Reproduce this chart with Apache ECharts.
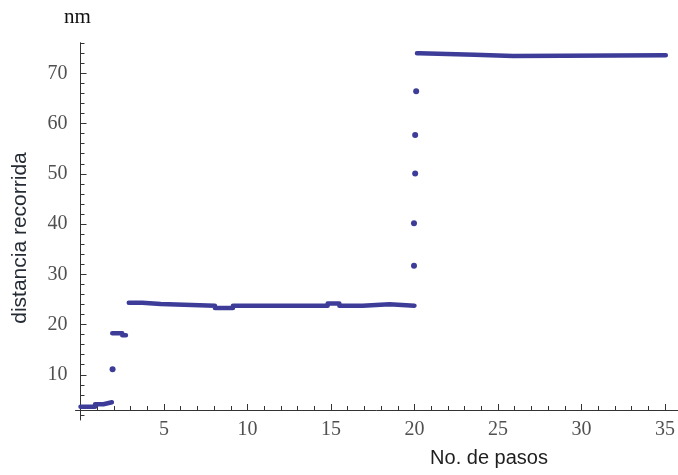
<!DOCTYPE html>
<html>
<head>
<meta charset="utf-8">
<script src="https://cdn.jsdelivr.net/npm/echarts@6/dist/echarts.min.js"></script>
<style>
  html, body { margin: 0; padding: 0; background: #fff; }
  #chart { width: 678px; height: 475px; }
</style>
</head>
<body>
<div id="chart"></div>
<script>
// Distance travelled (nm) against number of steps.
// Each plateau is a run of levels: x where a level starts, y of that level.
const driftX = [0, 0.87, 1.37, 1.88];
const driftY = [3.66, 4.14, 4.53, 4.53];

const plateau18X = [1.9, 2.5, 2.72];
const plateau18Y = [18.25, 17.85, 17.85];

const plateau24X = [2.89, 3.7, 4.8, 8.05, 9.13, 14.8, 15.5, 16.9, 18.5, 20.0];
const plateau24Y = [24.35, 24.1, 23.75, 23.3, 23.75, 24.2, 23.75, 24.05, 23.75, 23.75];

const plateau74X = [20.15, 20.3, 23.6, 25.9, 35.05];
const plateau74Y = [74.0, 73.7, 73.45, 73.6, 73.6];

// single samples caught during the jumps
const jumpX = [1.92, 19.97, 19.97, 20.04, 20.04, 20.1];
const jumpY = [11.1, 31.7, 40.16, 50.04, 57.75, 66.45];

// axis ticks
const xTickLabels = [5, 10, 15, 20, 25, 30, 35];
const xMinorTicks = [1, 2, 3, 4, 6, 7, 8, 9, 11, 12, 13, 14, 16, 17, 18, 19, 21, 22, 23, 24, 26, 27, 28, 29, 31, 32, 33, 34];
const yTickLabels = [10, 20, 30, 40, 50, 60, 70];
const yMinorTicks = [2, 4, 6, 8, 12, 14, 16, 18, 22, 24, 26, 28, 32, 34, 36, 38, 42, 44, 46, 48, 52, 54, 56, 58, 62, 64, 66, 68, 72, 74, 76];

const MARK = '#3d3d99';
const AXIS = '#333333';
const TICKTEXT = '#505050';

function pairs(xs, ys) {
  return xs.map((x, i) => [x, ys[i]]);
}

// one stepped path with breaks between the separate plateaus
const stepData = []
  .concat(pairs(driftX, driftY), [[null, null]])
  .concat(pairs(plateau18X, plateau18Y), [[null, null]])
  .concat(pairs(plateau24X, plateau24Y), [[null, null]])
  .concat(pairs(plateau74X, plateau74Y));

const xRange = { min: -0.3, max: 35.78 };
const yRange = { min: 1.0, max: 76.1 };

const chart = echarts.init(document.getElementById('chart'), null, { renderer: 'canvas' });

chart.setOption({
  animation: false,
  backgroundColor: '#ffffff',
  grid: { left: 75.5, right: 0, top: 42.7, bottom: 55, containLabel: false },
  xAxis: [
    {
      type: 'value', min: xRange.min, max: xRange.max,
      position: 'bottom', offset: -10,
      axisLine: { onZero: false, lineStyle: { color: AXIS, width: 1 } },
      axisTick: { inside: true, length: 6, customValues: xTickLabels, lineStyle: { color: AXIS } },
      axisLabel: {
        customValues: xTickLabels, margin: 10,
        color: TICKTEXT, fontFamily: 'Liberation Serif', fontSize: 20
      },
      splitLine: { show: false }
    },
    {
      type: 'value', min: xRange.min, max: xRange.max,
      position: 'bottom', offset: -10,
      axisLine: { show: false, onZero: false },
      axisTick: { inside: true, length: 4, customValues: xMinorTicks, lineStyle: { color: AXIS } },
      axisLabel: { show: false },
      splitLine: { show: false }
    }
  ],
  yAxis: [
    {
      type: 'value', min: yRange.min, max: yRange.max,
      position: 'left',
      axisLine: { onZero: true, lineStyle: { color: AXIS, width: 1 } },
      axisTick: { inside: true, length: 6, customValues: yTickLabels, lineStyle: { color: AXIS } },
      axisLabel: {
        customValues: yTickLabels, margin: 8,
        color: TICKTEXT, fontFamily: 'Liberation Serif', fontSize: 20
      },
      splitLine: { show: false }
    },
    {
      type: 'value', min: yRange.min, max: yRange.max,
      position: 'left',
      axisLine: { show: false, onZero: true },
      axisTick: { inside: true, length: 4, customValues: yMinorTicks, lineStyle: { color: AXIS } },
      axisLabel: { show: false },
      splitLine: { show: false }
    }
  ],
  series: [
    {
      type: 'line',
      data: stepData,
      step: 'end',
      connectNulls: false,
      showSymbol: false,
      symbol: 'none',
      lineStyle: { color: MARK, width: 4.5, cap: 'round', join: 'round' },
      clip: false
    },
    {
      type: 'scatter',
      data: pairs(jumpX, jumpY),
      symbol: 'circle',
      symbolSize: 6,
      itemStyle: { color: MARK, opacity: 1 }
    }
  ],
  graphic: [
    {
      type: 'text', x: 77.5, y: 17,
      style: {
        text: 'nm', textAlign: 'center', textVerticalAlign: 'middle',
        font: '21px "Liberation Serif"', fill: '#111'
      }
    },
    {
      type: 'text', x: 20, y: 238, rotation: Math.PI / 2,
      style: {
        text: 'distancia recorrida', textAlign: 'center', textVerticalAlign: 'middle',
        font: '21px "Liberation Sans"', fill: '#262c36'
      }
    },
    {
      type: 'text', x: 489, y: 458,
      style: {
        text: 'No. de pasos', textAlign: 'center', textVerticalAlign: 'middle',
        font: '20px "Liberation Sans"', fill: '#1e1e1e'
      }
    }
  ]
});
</script>
</body>
</html>
